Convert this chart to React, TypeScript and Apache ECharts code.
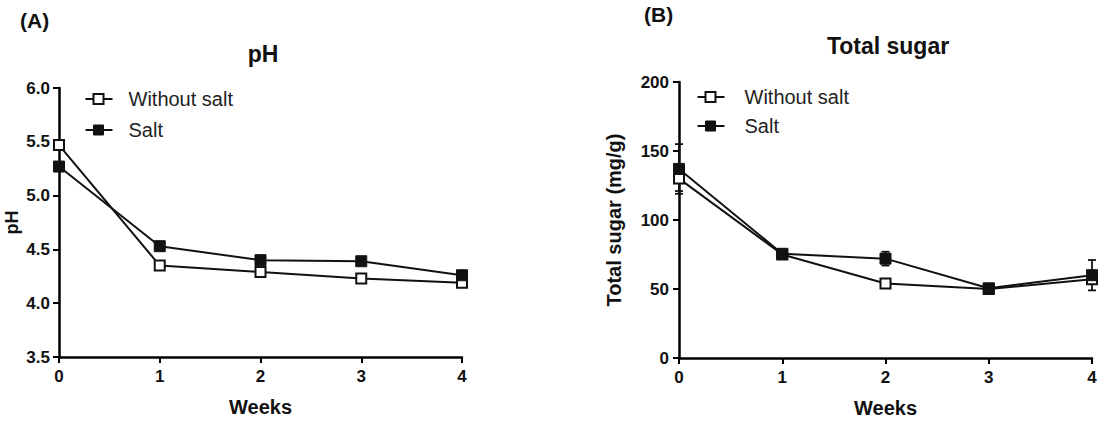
import React, { useEffect, useRef } from "react";
import * as echarts from "echarts";

// Sampling weeks
const weeks = [0, 1, 2, 3, 4];
const weekLabels = ["0", "1", "2", "3", "4"];

// pH over storage
const phWithoutSalt = [5.47, 4.35, 4.29, 4.23, 4.19];
const phSalt = [5.27, 4.53, 4.4, 4.39, 4.26];

// Total sugar (mg/g) with SD
const sugarWithoutSalt = [130, 75, 54, 50, 57];
const sugarWithoutSaltErr = [9, 2, 3, 2, 3];
const sugarSalt = [137, 75.5, 72, 50.5, 60];
const sugarSaltErr = [18, 3, 5, 2, 11];

const phTicks = ["3.5", "4.0", "4.5", "5.0", "5.5", "6.0"];
const sugarTicks = ["0", "50", "100", "150", "200"];

const seriesNames = ["Without salt", "Salt"];

const FONT = "Liberation Sans, Arial, sans-serif";
const INK = "#111";

const pairs = (ys: number[]) => weeks.map((w, i) => [w, ys[i]]);

const errorSeries = (ys: number[], errs: number[], xAxisIndex: number, yAxisIndex: number) => ({
  type: "custom",
  xAxisIndex,
  yAxisIndex,
  silent: true,
  z: 1,
  data: weeks.map((w, i) => [w, ys[i] - errs[i], ys[i] + errs[i]]),
  renderItem: (params: any, api: any) => {
    const lo = api.coord([api.value(0), api.value(1)]);
    const hi = api.coord([api.value(0), api.value(2)]);
    const cap = 4;
    const style = { stroke: INK, lineWidth: 1.8 };
    return {
      type: "group",
      children: [
        { type: "line", shape: { x1: lo[0], y1: lo[1], x2: hi[0], y2: hi[1] }, style },
        { type: "line", shape: { x1: lo[0] - cap, y1: lo[1], x2: lo[0] + cap, y2: lo[1] }, style },
        { type: "line", shape: { x1: hi[0] - cap, y1: hi[1], x2: hi[0] + cap, y2: hi[1] }, style },
      ],
    };
  },
});

const lineSeries = (name: string, ys: number[], filled: boolean, xAxisIndex: number, yAxisIndex: number) => ({
  name,
  type: "line",
  xAxisIndex,
  yAxisIndex,
  data: pairs(ys),
  symbol: "rect",
  symbolSize: filled ? 11 : 10,
  z: 3,
  lineStyle: { color: INK, width: 2 },
  itemStyle: filled
    ? { color: INK, borderColor: INK, borderWidth: 1 }
    : { color: "#fff", borderColor: INK, borderWidth: 2 },
});

// Line-and-square key drawn next to each panel's y axis
const legendGroup = (left: number, top: number, textX: number, rowGap: number) => ({
  type: "group",
  left,
  top,
  children: seriesNames.flatMap((name, i) => {
    const cy = 6 + i * rowGap;
    const filled = i === 1;
    return [
      { type: "line", shape: { x1: 0, y1: cy, x2: 27, y2: cy }, style: { stroke: INK, lineWidth: 2 } },
      {
        type: "rect",
        shape: { x: 8, y: cy - 5, width: 10, height: 10 },
        style: filled ? { fill: INK, stroke: INK, lineWidth: 1 } : { fill: "#fff", stroke: INK, lineWidth: 2 },
      },
      {
        type: "text",
        x: textX,
        y: cy,
        style: { text: name, font: `20px ${FONT}`, fill: "#222", verticalAlign: "middle" },
      },
    ];
  }),
});

const axisCommon = {
  axisLine: { show: true, lineStyle: { color: "#000", width: 2.5 } },
  axisTick: { show: true, length: 6, lineStyle: { color: "#000", width: 2 } },
  splitLine: { show: false },
  axisLabel: { color: INK, fontFamily: FONT, fontWeight: "bold", fontSize: 17 },
};

const nameStyle = { color: INK, fontFamily: FONT, fontWeight: "bold", fontSize: 20 };

export default function App() {
  const ref = useRef<HTMLDivElement>(null);

  useEffect(() => {
    if (!ref.current) return;
    const chart = echarts.init(ref.current, null, { renderer: "svg" });

    const xAxis = (gridIndex: number) => ({
      ...axisCommon,
      type: "value",
      gridIndex,
      min: 0,
      max: 4,
      interval: 1,
      name: "Weeks",
      nameLocation: "middle",
      nameGap: 40,
      nameTextStyle: nameStyle,
      axisLabel: {
        ...axisCommon.axisLabel,
        margin: 11,
        formatter: (v: number) => weekLabels[v] ?? "",
      },
    });

    chart.setOption({
      animation: false,
      backgroundColor: "#fff",
      title: [
        { text: "(A)", left: 15, top: 5, textStyle: { fontFamily: FONT, fontWeight: "bold", fontSize: 21, color: INK } },
        { text: "pH", left: 258, top: 37, textAlign: "center", textStyle: { fontFamily: FONT, fontWeight: "bold", fontSize: 23, color: INK } },
        { text: "(B)", left: 639, top: -1, textStyle: { fontFamily: FONT, fontWeight: "bold", fontSize: 21, color: INK } },
        { text: "Total sugar", left: 883, top: 29, textAlign: "center", textStyle: { fontFamily: FONT, fontWeight: "bold", fontSize: 23, color: INK } },
      ],
      grid: [
        { left: 59, right: 644, top: 88, height: 269, outerBoundsMode: "none" },
        { left: 679, right: 14, top: 82, height: 276, outerBoundsMode: "none" },
      ],
      xAxis: [xAxis(0), xAxis(1)],
      yAxis: [
        {
          ...axisCommon,
          type: "value",
          gridIndex: 0,
          min: 3.5,
          max: 6.0,
          interval: 0.5,
          name: "pH",
          nameLocation: "middle",
          nameGap: 38,
          nameTextStyle: { ...nameStyle, fontSize: 18 },
          axisLabel: {
            ...axisCommon.axisLabel,
            margin: 9,
            formatter: (v: number) => phTicks[Math.round((v - 3.5) / 0.5)] ?? "",
          },
        },
        {
          ...axisCommon,
          type: "value",
          gridIndex: 1,
          min: 0,
          max: 200,
          interval: 50,
          name: "Total sugar (mg/g)",
          nameLocation: "middle",
          nameGap: 55,
          nameTextStyle: nameStyle,
          axisLabel: {
            ...axisCommon.axisLabel,
            margin: 10,
            formatter: (v: number) => sugarTicks[Math.round(v / 50)] ?? "",
          },
        },
      ],
      series: [
        lineSeries(seriesNames[0], phWithoutSalt, false, 0, 0),
        lineSeries(seriesNames[1], phSalt, true, 0, 0),
        errorSeries(sugarWithoutSalt, sugarWithoutSaltErr, 1, 1),
        errorSeries(sugarSalt, sugarSaltErr, 1, 1),
        lineSeries(seriesNames[0], sugarWithoutSalt, false, 1, 1),
        lineSeries(seriesNames[1], sugarSalt, true, 1, 1),
      ],
      graphic: [legendGroup(83, 89, 43, 31), legendGroup(695, 87, 47, 29)],
    });

    return () => chart.dispose();
  }, []);

  return <div ref={ref} style={{ position: "absolute", left: 0, top: 0, width: 1106, height: 423 }} />;
}
